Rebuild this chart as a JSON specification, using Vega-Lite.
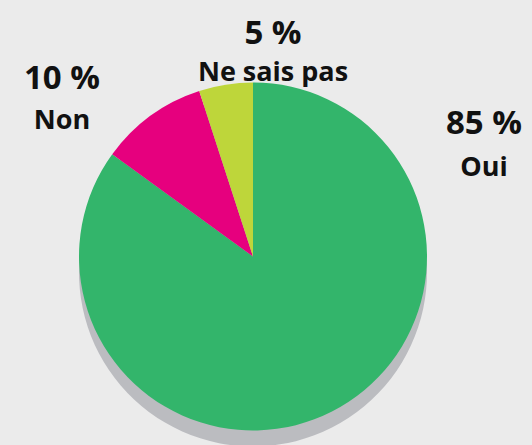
{
  "$schema": "https://vega.github.io/schema/vega-lite/v6.json",
  "width": 532,
  "height": 445,
  "autosize": {"type": "fit", "contains": "padding"},
  "padding": 0,
  "background": "#ebebeb",
  "config": {"view": {"stroke": null}},
  "data": {
    "values": [
      {"answer": "Oui", "pct": 85, "label": "85 %"},
      {"answer": "Non", "pct": 10, "label": "10 %"},
      {"answer": "Ne sais pas", "pct": 5, "label": "5 %"}
    ]
  },
  "layer": [
    {
      "mark": {"type": "arc", "radius": 174, "xOffset": -13, "yOffset": 52, "color": "#bbbcc0"},
      "encoding": {
        "theta": {"field": "pct", "type": "quantitative", "stack": true},
        "order": {"field": "answer", "sort": "descending"}
      }
    },
    {
      "mark": {"type": "arc", "radius": 174, "xOffset": -13, "yOffset": 36},
      "encoding": {
        "theta": {"field": "pct", "type": "quantitative", "stack": true},
        "order": {"field": "answer", "sort": "descending"},
        "color": {
          "field": "answer",
          "type": "nominal",
          "scale": {"domain": ["Oui", "Non", "Ne sais pas"], "range": ["#33b56b", "#e6007e", "#bed63a"]},
          "legend": null
        }
      }
    },
    {
      "mark": {"type": "text", "font": "Open Sans", "fontWeight": "bold", "fontSize": 33, "baseline": "alphabetic", "align": "center", "color": "#111111"},
      "encoding": {
        "x": {"field": "answer", "type": "nominal", "axis": null, "scale": {"type": "point", "padding": 0, "domain": ["Non", "Ne sais pas", "Oui"], "range": [62, 484]}},
        "y": {"field": "answer", "type": "nominal", "axis": null, "scale": {"type": "point", "padding": 0, "domain": ["Ne sais pas", "Non", "Oui"], "range": [44, 134]}},
        "text": {"field": "label"}
      }
    },
    {
      "mark": {"type": "text", "font": "Open Sans", "fontWeight": "bold", "fontSize": 27, "baseline": "alphabetic", "align": "center", "color": "#111111"},
      "encoding": {
        "x": {"field": "answer", "type": "nominal", "axis": null, "scale": {"type": "point", "padding": 0, "domain": ["Non", "Ne sais pas", "Oui"], "range": [62, 484]}},
        "y": {"field": "answer", "type": "nominal", "axis": null, "scale": {"type": "point", "padding": 0, "domain": ["Ne sais pas", "Non", "Oui"], "range": [81, 176]}},
        "text": {"field": "answer"}
      }
    }
  ],
  "resolve": {"scale": {"y": "independent"}}
}
